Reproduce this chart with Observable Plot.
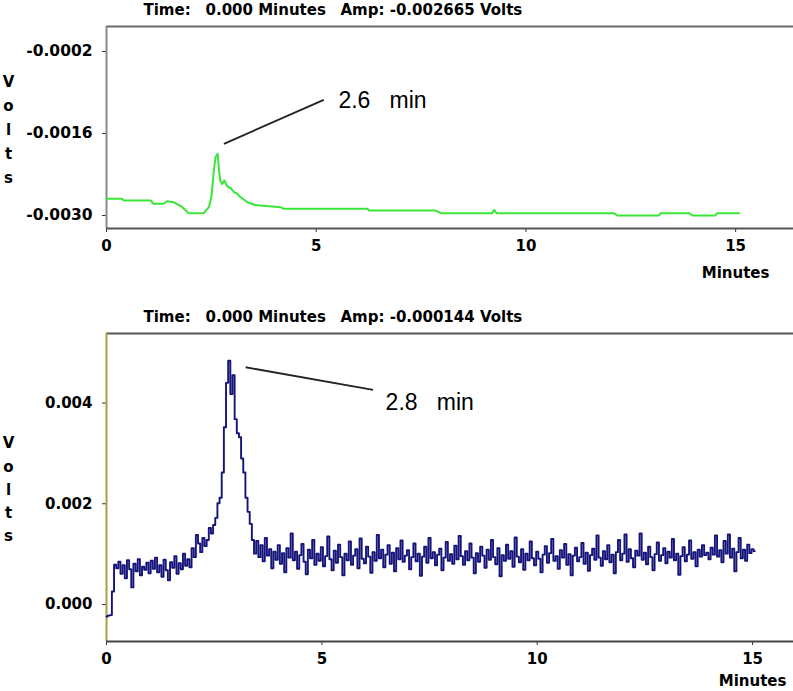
<!DOCTYPE html>
<html><head><meta charset="utf-8">
<script src="https://cdn.jsdelivr.net/npm/d3@7"></script>
<script src="https://cdn.jsdelivr.net/npm/@observablehq/plot@0.6"></script>
<style>
body{margin:0;background:#fff;}
svg{display:block;}
</style></head><body><div id="chart"></div>
<script>
// ---- data ----
const xTicks = [0, 5, 10, 15];
const topYTicks = [-0.0002, -0.0016, -0.0030];
const bottomYTicks = [0, 0.002, 0.004];
const topXDomain = [0, 16.38];
const topYDomain = [-0.003222, 0.000227];
const bottomXDomain = [0, 15.95];
const bottomYDomain = [-0.000734, 0.00538];

const topHeader = ["Time:", "0.000\u00a0Minutes", "Amp:\u00a0-0.002665\u00a0Volts"];
const bottomHeader = ["Time:", "0.000\u00a0Minutes", "Amp:\u00a0-0.000144\u00a0Volts"];
const yAxisName = "V\no\nl\nt\ns";
const xAxisName = "Minutes";

// top trace (green): minutes, volts
const topTime = [0, 0.37, 0.41, 1.05, 1.12, 1.36, 1.45, 1.60, 1.81, 1.96, 2.32, 2.44, 2.50, 2.56, 2.60, 2.65, 2.68, 2.71, 2.76, 2.81, 2.88, 2.96, 3.04, 3.11, 3.20, 3.36, 3.55, 3.67, 4.15, 4.23, 6.22, 6.26, 7.85, 7.97, 9.20, 9.24, 9.30, 12.10, 12.18, 13.17, 13.21, 13.89, 13.97, 14.52, 14.56, 15.08];
const topVolts = [-0.002715, -0.002715, -0.002744, -0.002744, -0.0028, -0.0028, -0.002756, -0.002773, -0.002858, -0.00296, -0.00296, -0.002858, -0.002688, -0.002232, -0.002005, -0.001947, -0.002203, -0.002402, -0.00246, -0.002402, -0.002505, -0.00253, -0.002602, -0.002624, -0.002688, -0.002773, -0.002821, -0.00283, -0.002858, -0.002886, -0.002886, -0.002915, -0.002915, -0.00296, -0.00296, -0.002906, -0.00296, -0.00296, -0.0030, -0.0030, -0.00296, -0.00296, -0.0030, -0.0030, -0.00296, -0.00296];

// bottom trace (blue): sampled every 0.05 min from 0
const bottomStartMin = 0;
const bottomStepMin = 0.05;
const bottomVolts = [
-0.00024, -0.00022, -0.00021, 0.00026, 0.00079, 0.00072, 0.00085, 0.00061, 0.00078, 0.00052, 0.00088, 0.00070, 0.00034, 0.00081, 0.00066, 0.00090, 0.00058, 0.00075, 0.00069, 0.00083,
0.00062, 0.00087, 0.00071, 0.00093, 0.00064, 0.00078, 0.00055, 0.00089, 0.00068, 0.00048, 0.00084, 0.00073, 0.00096, 0.00061, 0.00082, 0.00070, 0.00101, 0.00077, 0.00090, 0.00074,
0.00112, 0.00094, 0.00138, 0.00121, 0.00104, 0.00132, 0.00116, 0.00128, 0.00152, 0.00141, 0.00158, 0.00172, 0.00201, 0.00212, 0.00262, 0.00352, 0.00440, 0.00484, 0.00418, 0.00455,
0.00368, 0.00340, 0.00332, 0.00290, 0.00262, 0.00212, 0.00184, 0.00160, 0.00128, 0.00101, 0.00126, 0.00094, 0.00118, 0.00086, 0.00132, 0.00097, 0.00110, 0.00072, 0.00105, 0.00089,
0.00118, 0.00081, 0.00102, 0.00064, 0.00112, 0.00093, 0.00141, 0.00088, 0.00105, 0.00071, 0.00098, 0.00120, 0.00085, 0.00060, 0.00109, 0.00092, 0.00128, 0.00079, 0.00101, 0.00087,
0.00114, 0.00076, 0.00096, 0.00135, 0.00090, 0.00068, 0.00107, 0.00083, 0.00119, 0.00094, 0.00058, 0.00101, 0.00088, 0.00125, 0.00079, 0.00097, 0.00110, 0.00072, 0.00131, 0.00091,
0.00082, 0.00115, 0.00095, 0.00063, 0.00104, 0.00087, 0.00138, 0.00092, 0.00109, 0.00074, 0.00099, 0.00118, 0.00081, 0.00103, 0.00066, 0.00112, 0.00090, 0.00127, 0.00085, 0.00097,
0.00108, 0.00070, 0.00094, 0.00121, 0.00086, 0.00101, 0.00057, 0.00095, 0.00115, 0.00083, 0.00132, 0.00092, 0.00104, 0.00078, 0.00099, 0.00111, 0.00068, 0.00093, 0.00124, 0.00087,
0.00100, 0.00081, 0.00117, 0.00090, 0.00136, 0.00096, 0.00079, 0.00106, 0.00088, 0.00121, 0.00093, 0.00062, 0.00102, 0.00085, 0.00115, 0.00097, 0.00073, 0.00109, 0.00089, 0.00128,
0.00094, 0.00080, 0.00112, 0.00056, 0.00098, 0.00087, 0.00119, 0.00091, 0.00106, 0.00075, 0.00133, 0.00095, 0.00084, 0.00110, 0.00069, 0.00101, 0.00088, 0.00125, 0.00092, 0.00078,
0.00105, 0.00091, 0.00064, 0.00099, 0.00116, 0.00083, 0.00102, 0.00130, 0.00087, 0.00096, 0.00071, 0.00108, 0.00093, 0.00120, 0.00079, 0.00100, 0.00058, 0.00097, 0.00113, 0.00086,
0.00094, 0.00122, 0.00081, 0.00103, 0.00067, 0.00098, 0.00111, 0.00089, 0.00137, 0.00093, 0.00077, 0.00106, 0.00090, 0.00118, 0.00084, 0.00099, 0.00062, 0.00104, 0.00128, 0.00088,
0.00101, 0.00139, 0.00085, 0.00110, 0.00092, 0.00074, 0.00107, 0.00097, 0.00141, 0.00089, 0.00103, 0.00080, 0.00115, 0.00094, 0.00068, 0.00100, 0.00123, 0.00087, 0.00098, 0.00112,
0.00082, 0.00105, 0.00093, 0.00130, 0.00088, 0.00101, 0.00059, 0.00096, 0.00114, 0.00086, 0.00099, 0.00127, 0.00091, 0.00104, 0.00076, 0.00109, 0.00095, 0.00118, 0.00098, 0.00103,
0.00090, 0.00113, 0.00099, 0.00137, 0.00095, 0.00108, 0.00084, 0.00126, 0.00101, 0.00139, 0.00093, 0.00111, 0.00066, 0.00104, 0.00132, 0.00092, 0.00109, 0.00087, 0.00119, 0.00102,
0.00110, 0.00106
];

// callouts: [x1, y1, x2, y2] and label position [x, y]
const topCallout = [2.80, -0.001776, 5.18, -0.001025];
const topCalloutLabelPos = [5.53, -0.001037];
const topCalloutLabel = "2.6\u00a0\u00a0\u00a0min";
const bottomCallout = [3.23, 0.00471, 6.19, 0.004262];
const bottomCalloutLabelPos = [6.48, 0.004016];
const bottomCalloutLabel = "2.8\u00a0\u00a0\u00a0min";

// ---- drawing ----
const baseStyle = {fontFamily: "'DejaVu Sans', sans-serif", fontSize: "15px", fontWeight: "bold", background: "#fff", color: "#000", overflow: "visible"};
const headerDx = [37, 99, 234];

function headerMarks(header) {
  return header.map((h, i) => Plot.text([h], {frameAnchor: "top-left", dx: headerDx[i], dy: -16, textAnchor: "start", lineAnchor: "middle", fontWeight: "bold", fontSize: 15}));
}

const topChart = Plot.plot({
  width: 793, height: 280,
  marginLeft: 106, marginRight: 0, marginTop: 26, marginBottom: 52,
  style: baseStyle,
  x: {domain: topXDomain},
  y: {domain: topYDomain},
  marks: [
    Plot.axisX({ticks: xTicks, tickSize: 4, tickPadding: 8, label: null, tickFormat: d => String(d), stroke: "#333"}),
    Plot.axisY({ticks: topYTicks, tickSize: 4, tickPadding: 10, label: null, tickFormat: d => d.toFixed(4), stroke: "#333", fontSize: 15.5}),
    Plot.ruleY([topYDomain[1]], {stroke: "#6a6a6a", strokeWidth: 2}),
    Plot.ruleX([topXDomain[0]], {stroke: "#8a8a8a", strokeWidth: 2}),
    Plot.ruleY([topYDomain[0]], {stroke: "#555", strokeWidth: 2}),
    Plot.line(topTime.map((t, i) => ({t, v: topVolts[i]})), {x: "t", y: "v", stroke: "#38e638", strokeWidth: 2}),
    Plot.link([topCallout], {x1: d => d[0], y1: d => d[1], x2: d => d[2], y2: d => d[3], stroke: "#222", strokeWidth: 1.8}),
    Plot.text([topCalloutLabel], {x: topCalloutLabelPos[0], y: topCalloutLabelPos[1], textAnchor: "start", lineAnchor: "middle", fontFamily: "'Liberation Sans', Arial, sans-serif", fontWeight: "normal", fontSize: 23}),
    ...headerMarks(topHeader),
    Plot.text([yAxisName], {frameAnchor: "left", dx: -98, textAnchor: "middle", lineAnchor: "middle", lineHeight: 1.6}),
    Plot.text([xAxisName], {x: xTicks[3], frameAnchor: "bottom", dy: 45, textAnchor: "middle", lineAnchor: "middle"})
  ]
});

const bottomChart = Plot.plot({
  width: 793, height: 411,
  marginLeft: 106, marginRight: 0, marginTop: 53, marginBottom: 50,
  style: baseStyle,
  x: {domain: bottomXDomain},
  y: {domain: bottomYDomain},
  marks: [
    Plot.axisX({ticks: xTicks, tickSize: 4, tickPadding: 8, label: null, tickFormat: d => String(d), stroke: "#333"}),
    Plot.axisY({ticks: bottomYTicks, tickSize: 4, tickPadding: 10, label: null, tickFormat: d => d.toFixed(3), stroke: "#333"}),
    Plot.ruleY([bottomYDomain[1]], {stroke: "#555", strokeWidth: 2}),
    Plot.ruleX([bottomXDomain[0]], {stroke: "#aaa040", strokeWidth: 2}),
    Plot.ruleY([bottomYDomain[0]], {stroke: "#444", strokeWidth: 2}),
    Plot.line(bottomVolts, {x: (d, i) => bottomStartMin + i * bottomStepMin, y: d => d, curve: "step", stroke: "#14147a", strokeWidth: 1.9}),
    Plot.link([bottomCallout], {x1: d => d[0], y1: d => d[1], x2: d => d[2], y2: d => d[3], stroke: "#222", strokeWidth: 1.8}),
    Plot.text([bottomCalloutLabel], {x: bottomCalloutLabelPos[0], y: bottomCalloutLabelPos[1], textAnchor: "start", lineAnchor: "middle", fontFamily: "'Liberation Sans', Arial, sans-serif", fontWeight: "normal", fontSize: 23}),
    ...headerMarks(bottomHeader),
    Plot.text([yAxisName], {frameAnchor: "left", dx: -98, textAnchor: "middle", lineAnchor: "middle", lineHeight: 1.55}),
    Plot.text([xAxisName], {x: xTicks[3], frameAnchor: "bottom", dy: 40, textAnchor: "middle", lineAnchor: "middle"})
  ]
});

const root = document.getElementById("chart");
root.appendChild(topChart);
root.appendChild(bottomChart);
</script></body></html>
